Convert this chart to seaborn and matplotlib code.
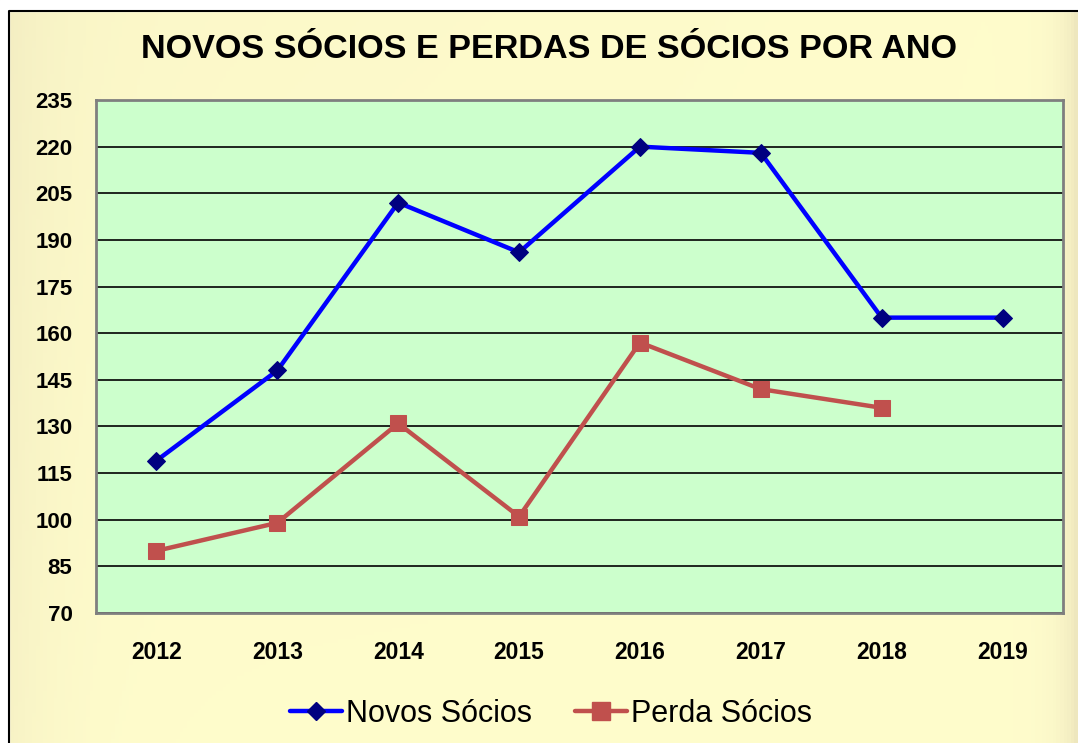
import numpy as np
import pandas as pd
import matplotlib
matplotlib.use("Agg")
import matplotlib.pyplot as plt
import seaborn as sns
from matplotlib.patches import Rectangle
from matplotlib.lines import Line2D

# === data ===
anos = ["2012", "2013", "2014", "2015", "2016", "2017", "2018", "2019"]
novos_socios = [119, 148, 202, 186, 220, 218, 165, 165]
perda_socios = [90, 99, 131, 101, 157, 142, 136, np.nan]
y_ticks = list(range(70, 236, 15))

df = pd.DataFrame({"ano": anos, "novos": novos_socios, "perda": perda_socios})

# === figure ===
sns.set_style("white")
plt.rcParams["font.family"] = ["Liberation Sans", "DejaVu Sans"]
plt.rcParams["text.color"] = "black"
plt.rcParams["xtick.color"] = "black"
plt.rcParams["ytick.color"] = "black"

W, H = 1078, 743
fig = plt.figure(figsize=(W / 100, H / 100), dpi=100)

# background gradient (light yellow, darker towards the edges)
bg = fig.add_axes([0, 0, 1, 1], zorder=-10)
gx = np.linspace(0, 1, 300)
gy = np.linspace(0, 1, 200)
X, Y = np.meshgrid(gx, gy)
base = np.array([1.0, 0.99, 0.80])
edge = np.array([0.93, 0.90, 0.74])
w = np.clip(np.exp(-X / 0.05) * 0.5 + np.exp(-(1 - X) / 0.015) * 0.9 + (1 - Y) * 0.2 * (1 - X), 0, 1)
img = base[None, None, :] * (1 - w[..., None]) + edge[None, None, :] * w[..., None]
bg.imshow(img, extent=[0, 1, 0, 1], origin="upper", aspect="auto")
bg.set_xlim(0, 1)
bg.set_ylim(0, 1)
bg.axis("off")
# white strip at top/left and black frame
bg.add_patch(Rectangle((0, 1 - 11 / H), 1, 11 / H, color="white", zorder=2))
bg.add_patch(Rectangle((0, 0), 9 / W, 1, color="white", zorder=2))
bg.plot([9 / W, 9 / W, 1], [0, 1 - 11 / H, 1 - 11 / H], color="black", lw=1.5, zorder=3)

# plot area
left, right, top, bottom = 96, 1063, 100, 613
ax = fig.add_axes([left / W, 1 - bottom / H, (right - left) / W, (bottom - top) / H])
ax.set_facecolor("#CCFFCC")

sns.lineplot(data=df, x="ano", y="novos", ax=ax, color="#0000FF", lw=3.2,
             marker="D", markersize=9, markerfacecolor="#000080",
             markeredgecolor="#000080", zorder=4)
sns.lineplot(data=df, x="ano", y="perda", ax=ax, color="#C0504D", lw=3.2,
             marker="s", markersize=12, markerfacecolor="#C0504D",
             markeredgecolor="#C0504D", zorder=3)

ax.set_xlim(-0.5, len(anos) - 0.5)
ax.set_ylim(70, 235)
ax.set_yticks(y_ticks)
ax.set_yticklabels([str(t) for t in y_ticks], fontsize=16, fontweight="bold")
ax.set_xticks(range(len(anos)))
ax.set_xticklabels(anos, fontsize=16.5, fontweight="bold")
ax.tick_params(axis="x", length=0, pad=20)
ax.tick_params(axis="y", length=0, pad=17)
ax.yaxis.grid(True, color="black", lw=1.2)
ax.set_axisbelow(True)
for s in ax.spines.values():
    s.set_color("#7F7F7F")
    s.set_linewidth(2)
ax.set_xlabel("")
ax.set_ylabel("")

fig.text(549 / W, 1 - 50 / H, "NOVOS SÓCIOS E PERDAS DE SÓCIOS POR ANO",
         ha="center", va="center", fontsize=24.6, fontweight="bold")

handles = [
    Line2D([], [], color="#0000FF", lw=3.2, marker="D", markersize=9,
           markerfacecolor="#000080", markeredgecolor="#000080"),
    Line2D([], [], color="#C0504D", lw=3.2, marker="s", markersize=13,
           markerfacecolor="#C0504D", markeredgecolor="#C0504D"),
]
fig.legend(handles, ["Novos Sócios", "Perda Sócios"], loc="center",
           bbox_to_anchor=(551 / W, 1 - 714 / H), ncol=2, frameon=False,
           fontsize=22, handlelength=1.7, handletextpad=0.15, columnspacing=1.4)

fig.savefig("out.png", dpi=100)
